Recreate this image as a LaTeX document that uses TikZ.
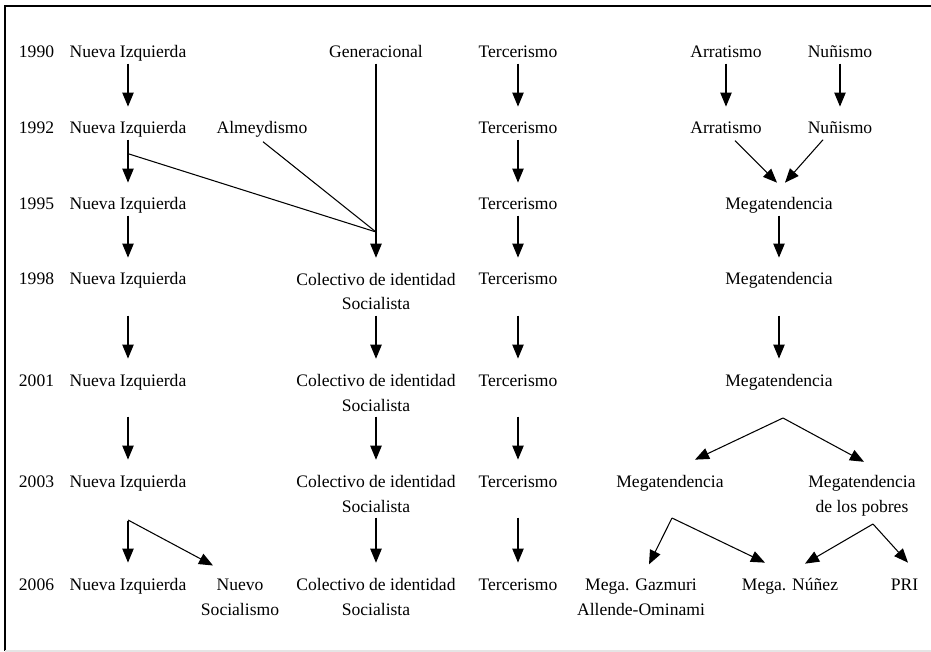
\documentclass[tikz,border=0pt]{standalone}
\usepackage{fontspec}
\setmainfont{Liberation Serif}
\usetikzlibrary{arrows.meta,calc}

\tikzset{
	lbl/.style={anchor=base, inner sep=0pt, text height=7pt, text depth=2.5pt, font=\fontsize{10}{14.2}\selectfont},
	tall/.style={text depth=16.7pt},
	lbltwo/.style={anchor=base, inner sep=0pt, align=center, text depth=2.5pt, font=\fontsize{10}{14.2}\selectfont},
	flow/.style={-{Triangle[length=8pt,width=6.5pt]}, line width=0.6pt, shorten >=8.4pt, shorten <=0.5pt},
	branch/.style={-{Triangle[length=8pt,width=6.5pt]}, line width=0.6pt},
	link/.style={line width=0.6pt}
}

\begin{document}
\begin{tikzpicture}[x=0.02cm, y=-0.02cm]
		\useasboundingbox (0,0) rectangle (931,652);
		\draw[line width=1.1pt] (931,6) -- (5,6) -- (5,651);
		\draw[gray!20, line width=0.8pt] (5,651) -- (931,651);

		% years
		\node[lbl] (y90) at (36.5,58) {1990};
		\node[lbl] (y92) at (36.5,134) {1992};
		\node[lbl] (y95) at (36.5,210) {1995};
		\node[lbl] (y98) at (36.5,285) {1998};
		\node[lbl] (y01) at (36.5,386) {2001};
		\node[lbl] (y03) at (36.5,487) {2003};
		\node[lbl] (y06) at (36.5,590) {2006};

		% Nueva Izquierda
		\node[lbl] (ni90) at (128,58) {Nueva Izquierda};
		\node[lbl] (ni92) at (128,134) {Nueva Izquierda};
		\node[lbl] (ni95) at (128,210) {Nueva Izquierda};
		\node[lbl, tall] (ni98) at (128,285) {Nueva Izquierda};
		\node[lbl, tall] (ni01) at (128,386) {Nueva Izquierda};
		\node[lbl, tall] (ni03) at (128,487) {Nueva Izquierda};
		\node[lbl] (ni06) at (128,590) {Nueva Izquierda};
		\node[lbltwo] (nuevo) at (240,615) {Nuevo\\Socialismo};

		% Generacional, Almeydismo, Colectivo
		\node[lbl] (gen) at (376,58) {Generacional};
		\node[lbl] (alm) at (262,134) {Almeydismo};
		\node[lbltwo] (col98) at (376,310) {Colectivo de identidad\\Socialista};
		\node[lbltwo] (col01) at (376,411) {Colectivo de identidad\\Socialista};
		\node[lbltwo] (col03) at (376,512) {Colectivo de identidad\\Socialista};
		\node[lbltwo] (col06) at (376,615) {Colectivo de identidad\\Socialista};

		% Tercerismo
		\node[lbl] (ter90) at (518,58) {Tercerismo};
		\node[lbl] (ter92) at (518,134) {Tercerismo};
		\node[lbl] (ter95) at (518,210) {Tercerismo};
		\node[lbl, tall] (ter98) at (518,285) {Tercerismo};
		\node[lbl, tall] (ter01) at (518,386) {Tercerismo};
		\node[lbl, tall] (ter03) at (518,487) {Tercerismo};
		\node[lbl] (ter06) at (518,590) {Tercerismo};

		% Megatendencia
		\node[lbl] (arr90) at (726,58) {Arratismo};
		\node[lbl] (nun90) at (840,58) {Nuñismo};
		\node[lbl] (arr92) at (726,134) {Arratismo};
		\node[lbl] (nun92) at (840,134) {Nuñismo};
		\node[lbl] (mega95) at (779,210) {Megatendencia};
		\node[lbl, tall] (mega98) at (779,285) {Megatendencia};
		\node[lbl, tall] (mega01) at (779,386) {Megatendencia};
		\node[lbl, tall] (mega03) at (670,487) {Megatendencia};
		\node[lbltwo] (pobres) at (862,512) {Megatendencia\\de los pobres};
		\node[lbltwo] (gaz) at (641,615) {Mega. Gazmuri\\Allende-Ominami};
		\node[lbl] (nunez) at (790,590) {Mega. Núñez};
		\node[lbl] (pri) at (904.5,590) {PRI};

		\coordinate (nibranch) at (129,154);
		\coordinate (join) at (376,232);
		\coordinate (nifork) at (128,520);
		\coordinate (megafork) at (783,418);
		\coordinate (mega03fork) at (672,518);
		\coordinate (pobresfork) at (873,524);

		\draw[flow] (ni90.south) -- (ni92.north);
		\draw[flow] (ni92.south) -- (ni95.north);
		\draw[flow] (ni95.south) -- (ni98.north);
		\draw[flow] (ni98.south) -- (ni01.north);
		\draw[flow] (ni01.south) -- (ni03.north);
		\draw[flow] (nifork) -- (ni06.north);
		\draw[branch] (nifork) -- ($(nuevo.north)+(-27,-12.7)$);

		\draw[flow] (gen.south) -- (col98.north);
		\draw[link] ($(alm.south)+(1,3)$) -- (join);
		\draw[link] (nibranch) -- (join);
		\draw[flow] (col98.south) -- (col01.north);
		\draw[flow] (col01.south) -- (col03.north);
		\draw[flow] (col03.south) -- (col06.north);

		\draw[flow] (ter90.south) -- (ter92.north);
		\draw[flow] (ter92.south) -- (ter95.north);
		\draw[flow] (ter95.south) -- (ter98.north);
		\draw[flow] (ter98.south) -- (ter01.north);
		\draw[flow] (ter01.south) -- (ter03.north);
		\draw[flow] (ter03.south) -- (ter06.north);

		\draw[flow] (arr90.south) -- (arr92.north);
		\draw[flow] (nun90.south) -- (nun92.north);
		\draw[branch] ($(arr92.south)+(9,2)$) -- ($(mega95.north)+(-2,-14.7)$);
		\draw[branch] ($(nun92.south)+(-17,1)$) -- ($(mega95.north)+(6,-14.7)$);
		\draw[flow] (mega95.south) -- (mega98.north);
		\draw[flow] (mega98.south) -- (mega01.north);
		\draw[branch] (megafork) -- ($(mega03.north)+(25,-14.7)$);
		\draw[branch] (megafork) -- ($(pobres.north)+(2,-12.7)$);
		\draw[branch] (mega03fork) -- ($(gaz.north)+(8,-13.7)$);
		\draw[branch] (mega03fork) -- ($(nunez.north)+(-25,-14.7)$);
		\draw[branch] (pobresfork) -- ($(nunez.north)+(15,-13.7)$);
		\draw[branch] (pobresfork) -- ($(pri.north)+(3.5,-14.7)$);
	\end{tikzpicture}
\end{document}
